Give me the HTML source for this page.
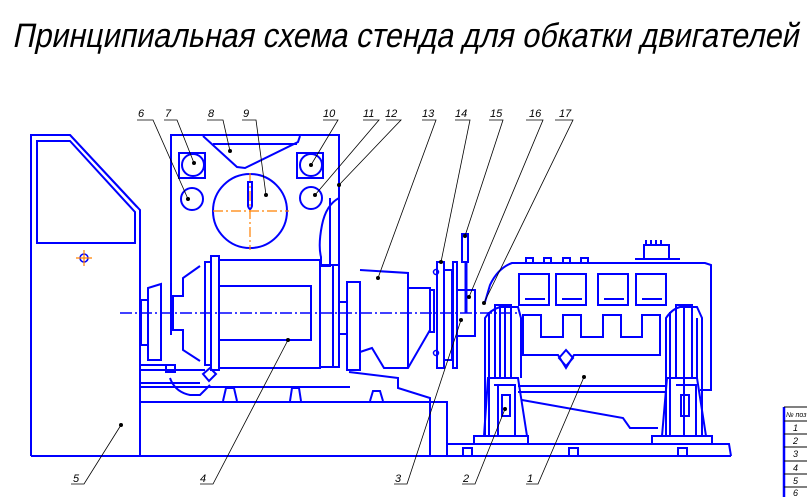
<!DOCTYPE html>
<html><head><meta charset="utf-8"><style>
html,body{margin:0;padding:0;background:#fff;width:807px;height:497px;overflow:hidden}
svg{display:block}
.b{fill:none;stroke:#0000ff;stroke-width:2;stroke-linejoin:miter}
.t{fill:none;stroke:#0000ff;stroke-width:1.5}
.l{fill:none;stroke:#000;stroke-width:0.8}
.c{fill:none;stroke:#ff8000;stroke-width:1.2;stroke-dasharray:10 3 2 3}
.n{font-family:"Liberation Sans","DejaVu Sans",sans-serif;font-style:italic;font-size:11px;fill:#000}
</style></head><body>
<svg width="807" height="497" viewBox="0 0 807 497" xmlns="http://www.w3.org/2000/svg">
<g transform="translate(0,47) skewX(-12)">
<text x="12" y="0" textLength="786" lengthAdjust="spacingAndGlyphs" font-family="Liberation Sans, DejaVu Sans, sans-serif" font-size="34" fill="#000">Принципиальная схема стенда для обкатки двигателей</text>
</g>

<!-- cabinet 5 -->
<path class="b" d="M31,456 V135 H70 L140,210 V456"/>
<path class="b" d="M31,135 H70 L137,207"/>
<path class="b" d="M37,243 V141 H70 L135,212 V243 Z"/>
<circle cx="84" cy="258" r="4" fill="none" stroke="#0000ff" stroke-width="1.5"/>
<path d="M76,258 H92 M84,250 V266" stroke="#ff8000" stroke-width="1.2"/>

<!-- bottom frames -->
<path class="b" d="M31,456 H731"/>
<path class="b" d="M140,402 H447 V456 M430,402 V456"/>
<path class="b" d="M140,387 H350 M140,383 H200"/>
<path class="b" d="M223,401 L226,388 H234 L237,401 M290,401 L292,388 H299 L301,401 M370,401 L373,391 H380 L383,401"/>

<!-- motor stand frame -->
<path class="b" d="M171,335 V135 H339 V330"/>
<path class="b" d="M203,136 L237,167 L245,168 L298,142 L300,136 M213,144 H297"/>
<rect class="b" x="179" y="153" width="26" height="25"/>
<circle class="b" cx="193" cy="165" r="11"/>
<rect class="b" x="297" y="153" width="26" height="25"/>
<circle class="b" cx="311" cy="165" r="11"/>
<circle class="b" cx="192" cy="199" r="11"/>
<circle class="b" cx="311" cy="198" r="11"/>
<circle class="b" cx="250" cy="211" r="37"/>
<path class="c" d="M213,211 H289 M250,173 V250"/>
<path class="b" d="M248,182 V206 Q250,212 252,206 V182 Z"/>
<path class="b" d="M339,198 Q326,205 322,225 Q318,245 321,257 V266 H330 V198"/>

<!-- motor 4 -->
<rect class="b" x="219" y="260" width="101" height="108"/>
<rect class="b" x="219" y="286" width="92" height="54"/>
<rect class="b" x="211" y="256" width="8" height="114"/>
<rect class="b" x="205" y="262" width="6" height="103"/>
<path class="b" d="M205,296 V330"/>
<path class="b" d="M200,266 L183,278 V296 L173,296 V330 H183 V350 L200,361"/>
<path class="b" d="M161,284 L148,288 V360 H161 Z M148,300 H141 V345 H148"/>
<path class="b" d="M140,365 H172 M140,370 H205"/>
<path class="b" d="M320,265 H339 V367 H320 M333,266 V367"/>
<path class="b" d="M166,365 H175 V372 H166 Z M170,378 Q175,392 190,395 H200 L210,385"/>
<path class="b" d="M203,374 L210,368 L216,374 L209,381 Z"/>

<!-- shaft & unit 13 -->
<path class="b" d="M339,302 H347 V334 H339"/>
<path class="b" d="M347,282 H360 V370 H347 Z"/>
<path class="b" d="M360,270 L408,273 V288 H430 V330 L408,368 H384 L372,348 L360,352"/>
<path class="b" d="M430,290 V332 H434 V290 Z"/>
<path class="b" d="M349,372 L398,378 V388 L430,398 V405"/>
<path class="b" d="M408,288 V368"/>

<!-- center line -->
<path d="M120,313 H520" stroke="#0000ff" stroke-width="1.5" stroke-dasharray="12 3 2 3"/>

<!-- flange 14 / lever 15 / 16 -->
<rect class="b" x="437" y="262" width="7" height="106"/>
<rect class="b" x="444" y="270" width="8" height="90"/>
<rect class="b" x="453" y="262" width="4" height="106"/>
<circle class="t" cx="436" cy="272" r="2.5"/><circle class="t" cx="436" cy="353" r="2.5"/>
<rect class="b" x="462" y="234" width="6" height="28"/>
<path d="M466,262 V313" stroke="#0000ff" stroke-width="3"/>
<path class="b" d="M457,290 H475 V336 H457"/>

<!-- engine -->
<path class="b" d="M485,302 L490,285 Q498,268 512,263 H705 L711,265 V390 H700"/>
<path class="b" d="M526,263 V258 H533 V263 M544,263 V258 H551 V263 M563,263 V258 H570 V263 M581,263 V258 H588 V263"/>
<path class="b" d="M635,259 H680 M644,259 V245 H669 V259 M646,245 V240 M651,245 V240 M656,245 V240 M661,245 V240"/>
<rect class="b" x="519" y="274" width="30" height="31"/>
<rect class="b" x="556" y="274" width="30" height="31"/>
<rect class="b" x="598" y="274" width="30" height="31"/>
<rect class="b" x="636" y="274" width="30" height="31"/>
<path class="b" d="M525,299 H545 M562,299 H582 M604,299 H624 M642,299 H662"/>
<path class="b" d="M523,315 H541 V337 H563 V315 H581 V337 H603 V315 H621 V337 H642 V315 H660 V355 H574 L566,368 L558,355 H523 Z"/>
<path class="b" d="M559,358 L566,350 L573,358 L566,366 Z"/>
<path class="b" d="M518,386 H666 M518,392 H666"/>
<path class="b" d="M522,400 L623,418 L630,428 H658"/>
<!-- towers -->
<path class="b" d="M485,436 V318 Q490,310 500,307 H518 L521,318 V378 M489,436 V312 M495,378 V305 H511 V378 M500,305 V378 M505,305 V378"/>
<path class="b" d="M484,436 L488,378 H518 L527,436 M474,436 H528 V444 H474 Z M494,385 H515 V436 M502,395 H510 V416 H502 Z M498,385 V436"/>
<path class="b" d="M666,436 V318 Q672,309 680,307 H697 L702,318 V436 M670,436 V312 M676,378 V305 H692 V378 M684,305 V436 M697,318 V378"/>
<path class="b" d="M662,436 L667,378 H697 L706,436 M652,436 H712 V444 H652 Z M676,385 H696 V436 M681,395 H689 V416 H681 Z"/>
<path class="b" d="M447,444 H729 L731,456 M463,455 V448 H472 V455 M569,455 V448 H578 V455 M678,455 V448 H687 V455"/>

<!-- leaders -->
<g class="l">
<path d="M137,120 H153 L188,199"/>
<path d="M164,120 H177 L194,163"/>
<path d="M207,120 H223 L230,151"/>
<path d="M242,120 H256 L266,195"/>
<path d="M323,120 H338 L311,165"/>
<path d="M363,120 H379 L315,195"/>
<path d="M386,120 H401 L339,185"/>
<path d="M422,120 H436 L378,278"/>
<path d="M455,120 H470 L441,262"/>
<path d="M489,120 H503 L465,236"/>
<path d="M526,120 H543 L469,297"/>
<path d="M555,120 H573 L484,303"/>
<path d="M71,484 H84 L121,425"/>
<path d="M200,484 H213 L288,340"/>
<path d="M394,484 H407 L461,320"/>
<path d="M462,484 H475 L505,409"/>
<path d="M526,484 H538 L584,377"/>
</g>
<g fill="#000">
<circle cx="188" cy="199" r="2"/><circle cx="194" cy="163" r="2"/><circle cx="230" cy="151" r="2"/><circle cx="266" cy="195" r="2"/><circle cx="311" cy="165" r="2"/><circle cx="315" cy="195" r="2"/><circle cx="339" cy="185" r="2"/><circle cx="378" cy="278" r="2"/><circle cx="441" cy="262" r="2"/><circle cx="465" cy="236" r="2"/><circle cx="469" cy="297" r="2"/><circle cx="484" cy="303" r="2"/><circle cx="121" cy="425" r="2"/><circle cx="288" cy="340" r="2"/><circle cx="461" cy="320" r="2"/><circle cx="505" cy="409" r="2"/><circle cx="584" cy="377" r="2"/>
</g>
<g class="n">
<text x="138" y="117">6</text><text x="165" y="117">7</text><text x="208" y="117">8</text><text x="243" y="117">9</text>
<text x="323" y="117">10</text><text x="363" y="117">11</text><text x="385" y="117">12</text><text x="422" y="117">13</text>
<text x="455" y="117">14</text><text x="490" y="117">15</text><text x="529" y="117">16</text><text x="559" y="117">17</text>
<text x="73" y="482">5</text><text x="200" y="482">4</text><text x="395" y="482">3</text><text x="463" y="482">2</text><text x="527" y="482">1</text>
</g>

<!-- table -->
<path d="M784,407 V497" stroke="#0000ff" stroke-width="2.5"/>
<path d="M784,407 H807 M784,421 H807 M784,434 H807 M784,447 H807 M784,461 H807 M784,474 H807 M784,487 H807" stroke="#000" stroke-width="1"/>
<g class="n" font-size="7">
<text x="786" y="417" font-size="7">№ поз</text>
<text x="793" y="431" font-size="9">1</text><text x="793" y="444" font-size="9">2</text><text x="793" y="457" font-size="9">3</text><text x="793" y="471" font-size="9">4</text><text x="793" y="484" font-size="9">5</text><text x="793" y="496" font-size="9">6</text>
</g>
</svg>
</body></html>
